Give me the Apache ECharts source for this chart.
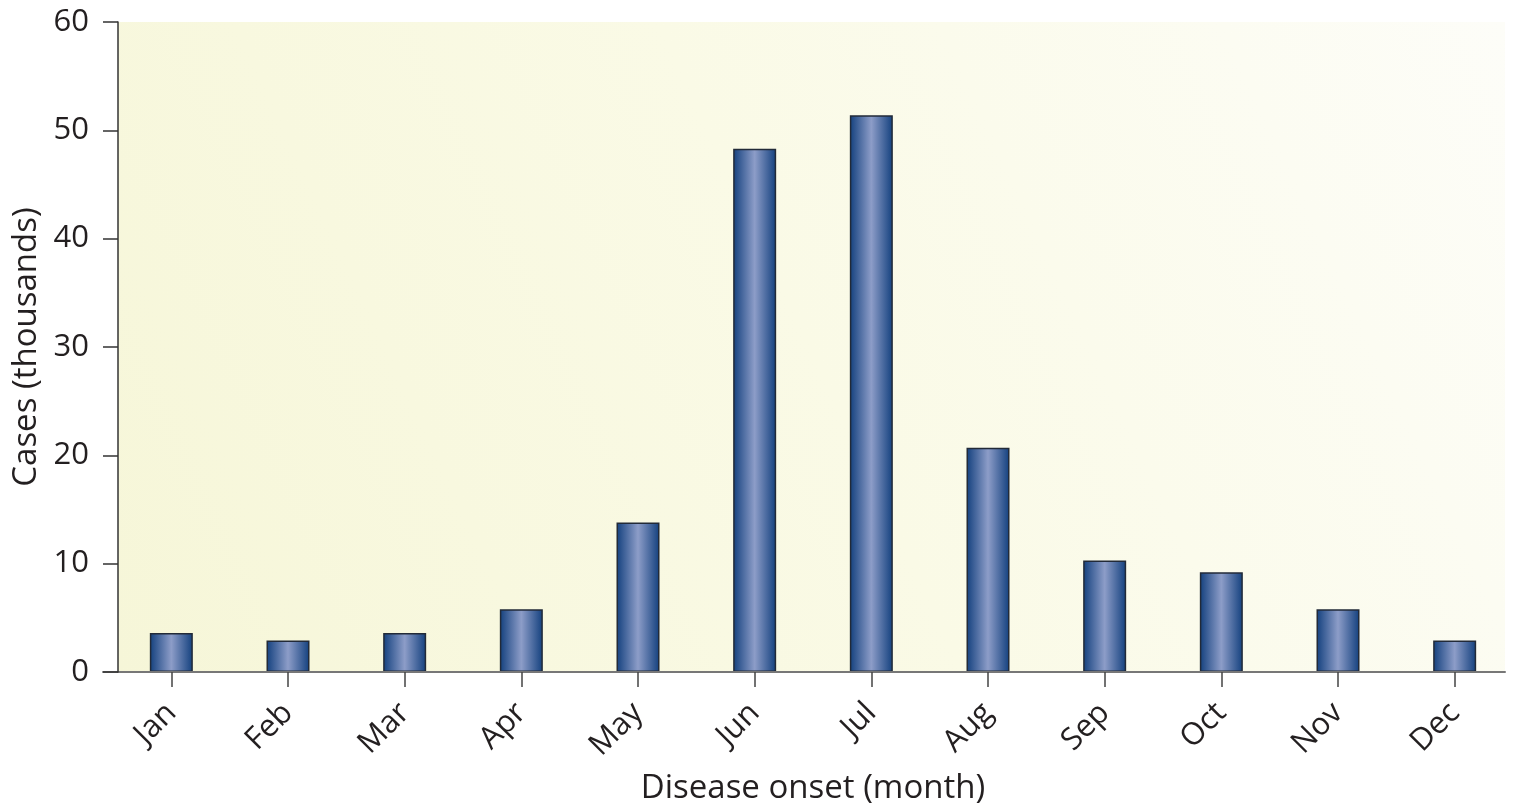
<!DOCTYPE html>
<html>
<head>
<meta charset="utf-8">
<script src="https://cdn.jsdelivr.net/npm/echarts@6/dist/echarts.min.js"></script>
<style>html,body{margin:0;padding:0;background:#fff;}#c{width:1530px;height:812px;}</style>
</head>
<body>
<div id="c"></div>
<script>
const months = ['Jan','Feb','Mar','Apr','May','Jun','Jul','Aug','Sep','Oct','Nov','Dec'];
const cases = [3.6, 2.9, 3.6, 5.8, 13.8, 48.3, 51.4, 20.7, 10.3, 9.2, 5.8, 2.9];
const yTicks = [0, 10, 20, 30, 40, 50, 60];

const FONT = 'Open Sans';
const TXT = '#231f20';
const chart = echarts.init(document.getElementById('c'));
const barGrad = new echarts.graphic.LinearGradient(0, 0, 1, 0, [
  {offset: 0, color: '#13407e'},
  {offset: 0.5, color: '#8d9dc8'},
  {offset: 1, color: '#13407e'}
]);
chart.setOption({
  animation: false,
  grid: [
    {left: 113, right: 17, top: 22, bottom: 140, containLabel: false, outerBoundsMode: 'none'},
    {left: 118, right: 25, top: 22, bottom: 140, show: true, borderWidth: 0,
      containLabel: false, outerBoundsMode: 'none',
      backgroundColor: new echarts.graphic.LinearGradient(0, 1, 1, 0, [
        {offset: 0, color: '#f6f6d8'},
        {offset: 0.5, color: '#fafae6'},
        {offset: 1, color: '#fdfdf8'}
      ])},
    {left: 103, right: 25, top: 22, bottom: 140, containLabel: false, outerBoundsMode: 'none'}
  ],
  xAxis: [
    {type: 'category', gridIndex: 0, data: months, z: 5,
      axisLine: {show: false},
      axisTick: {show: true, alignWithLabel: true, length: 15, lineStyle: {color: '#444', width: 1.5}},
      axisLabel: {rotate: 45, margin: 36, color: TXT, fontSize: 31, fontFamily: FONT},
      name: 'Disease onset (month)', nameLocation: 'middle', nameGap: 100,
      nameTextStyle: {color: TXT, fontSize: 33, fontFamily: FONT}},
    {type: 'value', gridIndex: 1, show: false},
    {type: 'value', gridIndex: 2, min: 0, max: 1, z: 4,
      axisLine: {show: true, lineStyle: {color: '#777', width: 2}},
      axisTick: {show: false}, axisLabel: {show: false}, splitLine: {show: false}}
  ],
  yAxis: [
    {type: 'value', gridIndex: 0, min: 0, max: 60, interval: 10, offset: -5, z: 5,
      axisLine: {show: true, lineStyle: {color: '#333', width: 1.5}},
      axisTick: {show: true, length: 15, lineStyle: {color: '#333', width: 1.5}},
      splitLine: {show: false},
      axisLabel: {margin: 29, color: TXT, fontSize: 31, fontFamily: FONT,
        formatter: v => yTicks.includes(v) ? String(v) : ''},
      name: 'Cases (thousands)', nameLocation: 'middle', nameGap: 69,
      nameTextStyle: {color: TXT, fontSize: 33, fontFamily: FONT}},
    {type: 'value', gridIndex: 1, show: false},
    {type: 'value', gridIndex: 2, show: false}
  ],
  series: [{
    type: 'bar', xAxisIndex: 0, yAxisIndex: 0, data: cases, barWidth: 43, z: 3,
    itemStyle: {color: barGrad, borderColor: '#222a38', borderWidth: 1.5}
  }]
});
</script>
</body>
</html>
